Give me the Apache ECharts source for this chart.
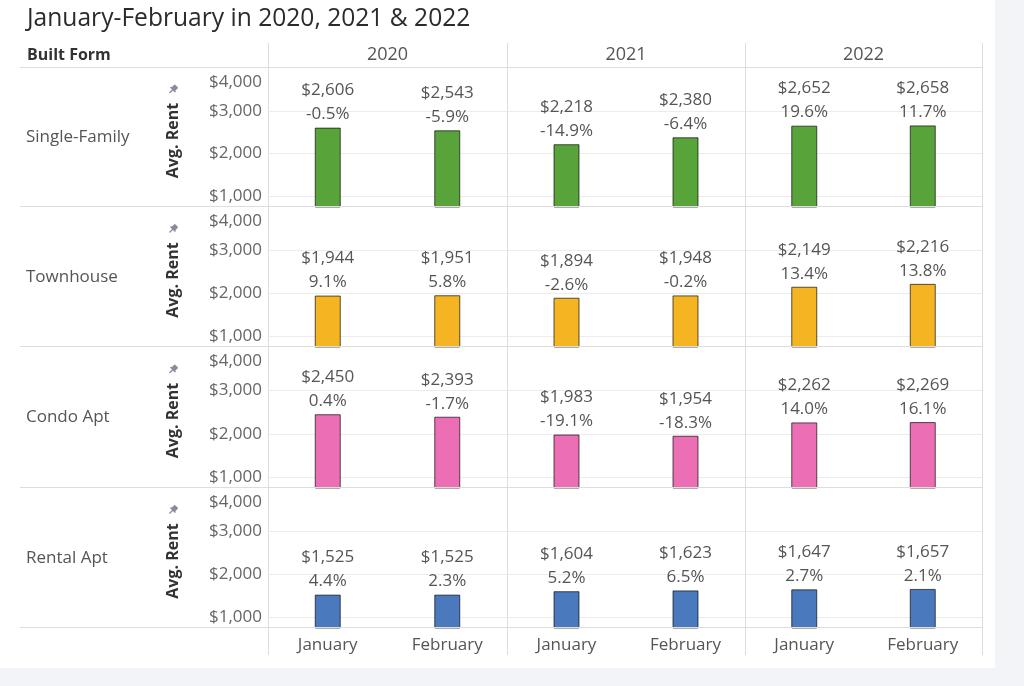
<!DOCTYPE html>
<html>
<head>
<meta charset="utf-8">
<script src="https://cdn.jsdelivr.net/npm/echarts@6/dist/echarts.min.js"></script>
<style>
html,body{margin:0;padding:0;background:#f2f4f8;}
#chart{width:1024px;height:686px;}
</style>
</head>
<body>
<div id="chart"></div>
<script>
// ---- data ----
const months = ['January', 'February'];
const years = ['2020', '2021', '2022'];
const builtForms = ['Single-Family', 'Townhouse', 'Condo Apt', 'Rental Apt'];
const yTickValues = [1000, 2000, 3000, 4000];
const gridValues = [1000, 2000, 3000];
// values ordered: 2020 Jan, 2020 Feb, 2021 Jan, 2021 Feb, 2022 Jan, 2022 Feb
const singleFamilyRent = [2606, 2543, 2218, 2380, 2652, 2658];
const singleFamilyChange = [-0.5, -5.9, -14.9, -6.4, 19.6, 11.7];
const townhouseRent = [1944, 1951, 1894, 1948, 2149, 2216];
const townhouseChange = [9.1, 5.8, -2.6, -0.2, 13.4, 13.8];
const condoAptRent = [2450, 2393, 1983, 1954, 2262, 2269];
const condoAptChange = [0.4, -1.7, -19.1, -18.3, 14.0, 16.1];
const rentalAptRent = [1525, 1525, 1604, 1623, 1647, 1657];
const rentalAptChange = [4.4, 2.3, 5.2, 6.5, 2.7, 2.1];

const rentByForm = [singleFamilyRent, townhouseRent, condoAptRent, rentalAptRent];
const changeByForm = [singleFamilyChange, townhouseChange, condoAptChange, rentalAptChange];
const formColors = ['#59a33b', '#f5b523', '#ec6fb5', '#4a79bd'];

// ---- layout ----
const FONT = 'Open Sans';
const colX = [268, 507, 745, 982];
const rowY = [68, 207, 347, 488, 628];
const Y_MIN = 750, Y_MAX = 4000;

const fmtMoney = v => '$' + v.toLocaleString('en-US');

const grids = [], xAxes = [], yAxes = [], series = [];
for (let r = 0; r < builtForms.length; r++) {
  for (let c = 0; c < years.length; c++) {
    const i = r * years.length + c;
    grids.push({
      left: colX[c], width: colX[c + 1] - colX[c],
      top: rowY[r], height: rowY[r + 1] - rowY[r]
    });
    xAxes.push({
      type: 'category', gridIndex: i, data: months,
      axisLine: { show: false }, axisTick: { show: false },
      axisLabel: {
        show: r === builtForms.length - 1, margin: 9,
        fontFamily: FONT, fontSize: 17, color: '#555'
      }
    });
    yAxes.push({
      type: 'value', gridIndex: i, min: Y_MIN, max: Y_MAX,
      splitLine: { show: false }, axisLine: { show: false }, axisTick: { show: false },
      axisLabel: {
        show: c === 0, margin: 6, customValues: yTickValues,
        fontFamily: FONT, fontSize: 17, color: '#666',
        formatter: v => v === Y_MAX ? '{t|' + fmtMoney(v) + '}' : fmtMoney(v),
        rich: { t: { fontFamily: FONT, fontSize: 17, color: '#666', padding: [28, 0, 0, 0] } }
      }
    });
    const vals = rentByForm[r].slice(c * 2, c * 2 + 2);
    const chg = changeByForm[r].slice(c * 2, c * 2 + 2);
    series.push({
      type: 'bar', xAxisIndex: i, yAxisIndex: i, z: 3,
      data: vals, barWidth: 26,
      itemStyle: { color: formColors[r], borderColor: 'rgba(0,0,0,0.65)', borderWidth: 1 },
      label: {
        show: true, position: 'top', distance: 1,
        formatter: p => '{v|' + fmtMoney(p.value) + '}\n{p|' + chg[p.dataIndex].toFixed(1) + '%}',
        rich: {
          v: { fontFamily: FONT, fontSize: 17, color: '#555', lineHeight: 24, align: 'center' },
          p: { fontFamily: FONT, fontSize: 17, color: '#555', lineHeight: 24, align: 'center' }
        }
      },
      // faint gridlines, kept behind the bars
      markLine: {
        z: 1, silent: true, symbol: 'none', animation: false,
        label: { show: false },
        lineStyle: { color: '#ececec', type: 'solid', width: 1 },
        data: gridValues.map(v => ({ yAxis: v }))
      }
    });
  }
}

// ---- decorations ----
const graphic = [];
graphic.push({ type: 'rect', z: -10, shape: { x: 0, y: 0, width: 995, height: 668 }, style: { fill: '#ffffff' } });
graphic.push({ type: 'text', x: 27, y: 19, style: { text: 'January-February in 2020, 2021 & 2022', fontFamily: FONT, fontSize: 24.6, fill: '#2b2b2b', verticalAlign: 'middle' } });
graphic.push({ type: 'text', x: 27, y: 55, style: { text: 'Built Form', fontFamily: FONT, fontSize: 16, fontWeight: 'bold', fill: '#333', verticalAlign: 'middle' } });
for (let c = 0; c < years.length; c++) {
  graphic.push({ type: 'text', x: (colX[c] + colX[c + 1]) / 2, y: 55, style: { text: years[c], fontFamily: FONT, fontSize: 18, fill: '#555', align: 'center', verticalAlign: 'middle' } });
}
for (let r = 0; r < builtForms.length; r++) {
  const cy = (rowY[r] + rowY[r + 1]) / 2;
  graphic.push({ type: 'text', x: 26, y: cy, style: { text: builtForms[r], fontFamily: FONT, fontSize: 17, fill: '#555', verticalAlign: 'middle' } });
  graphic.push({ type: 'text', x: 173, y: cy + 3, rotation: Math.PI / 2, style: { text: 'Avg. Rent', fontFamily: FONT, fontSize: 16, fontWeight: 'bold', fill: '#333', align: 'center', verticalAlign: 'middle' } });
  // small pin icon
  graphic.push({
    type: 'group', x: 173, y: cy - 48, rotation: -Math.PI / 4,
    children: [
      { type: 'rect', shape: { x: -2.5, y: -5, width: 5, height: 5, r: 1 }, style: { fill: '#8a8a9a' } },
      { type: 'line', shape: { x1: 0, y1: 0, x2: 0, y2: 5 }, style: { stroke: '#8a8a9a', lineWidth: 1.2 } },
      { type: 'line', shape: { x1: -3.5, y1: 0, x2: 3.5, y2: 0 }, style: { stroke: '#8a8a9a', lineWidth: 1.5 } }
    ]
  });
}
const lineStyle = { stroke: '#dddddd', lineWidth: 1 };
for (let k = 0; k < rowY.length; k++) {
  graphic.push({ type: 'line', z: 5, shape: { x1: 20, y1: rowY[k] - 0.5, x2: colX[3], y2: rowY[k] - 0.5 }, style: lineStyle });
}
for (let k = 0; k < colX.length; k++) {
  graphic.push({ type: 'line', z: 5, shape: { x1: colX[k] + 0.5, y1: 43, x2: colX[k] + 0.5, y2: 655 }, style: lineStyle });
}

const chart = echarts.init(document.getElementById('chart'));
chart.setOption({
  animation: false,
  backgroundColor: '#f2f4f8',
  grid: grids, xAxis: xAxes, yAxis: yAxes, series: series,
  graphic: graphic
});
</script>
</body>
</html>
